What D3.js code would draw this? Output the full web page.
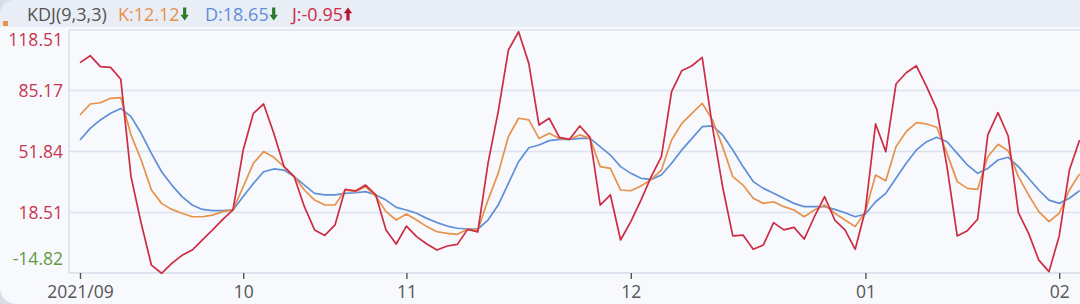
<!DOCTYPE html>
<html><head><meta charset="utf-8">
<script src="https://cdn.jsdelivr.net/npm/d3@7"></script>
<style>
html,body{margin:0;padding:0;background:#d9dee6;overflow:hidden;}
svg{display:block;}
</style></head><body>
<svg id="c" width="1080" height="304"></svg>
<script>
// ---- data ----
const kValues = [71.8,77.8,78.5,80.9,81.3,60.9,47.2,30.8,23.5,20.2,18.1,16.2,16.2,17.1,19.0,19.9,32.6,45.4,51.8,48.7,
  43.6,38.1,30.8,25.3,22.6,22.6,30.8,29.9,32.6,27.2,19.0,14.4,17.7,14.4,10.8,8.0,7.1,6.6,9.3,9.0,
  25.3,39.9,60.0,70.0,69.1,59.0,61.8,59.0,58.5,60.9,59.0,43.6,42.6,30.8,30.4,33.0,36.6,41.7,58.1,67.2,
  72.7,78.2,69.1,54.5,38.1,33.5,26.3,23.5,24.4,21.7,19.9,16.2,19.9,22.6,18.1,14.4,10.8,19.0,39.0,35.9,
  54.5,62.7,67.6,66.9,65.1,50.8,35.4,31.7,31.2,49.0,55.8,52.3,38.1,28.1,19.0,13.5,18.1,30.8,39.6];
const dValues = [58.1,64.5,69.1,72.7,75.4,70.9,61.8,50.8,40.8,33.5,27.2,22.6,20.2,19.5,19.5,19.9,27.2,34.4,40.8,42.3,
  41.7,38.1,33.5,29.0,28.1,28.1,29.0,29.3,29.9,28.1,25.3,21.3,19.9,18.1,15.3,13.0,11.1,9.9,9.5,9.5,
  14.4,22.6,34.4,46.3,53.9,55.4,57.8,58.5,58.5,59.0,59.0,54.5,49.9,43.6,39.9,37.2,36.6,39.0,45.4,52.7,
  59.0,65.4,65.8,60.9,52.7,43.6,35.4,31.7,29.0,26.3,23.5,21.7,21.7,21.7,20.2,18.4,16.2,17.7,24.4,29.0,
  37.2,45.4,52.7,57.2,59.6,57.2,50.8,44.5,39.9,42.6,47.2,48.7,43.6,37.2,30.8,25.3,23.5,26.3,30.4];
const jValues = [100.4,104.2,98.2,97.8,91.3,38.1,12.6,-10.2,-14.7,-9.3,-4.9,-2.0,3.5,9.0,14.8,19.9,52.7,72.7,77.8,61.8,
  43.6,38.1,21.7,9.0,6.0,11.7,31.2,30.3,33.5,28.1,9.0,1.3,11.1,5.3,1.3,-2.0,0.2,1.1,9.3,7.9,
  45.4,73.6,107.3,117.3,100.0,66.3,70.0,59.6,58.5,65.8,59.6,22.6,28.1,3.5,13.5,25.3,38.1,49.0,84.5,96.0,
  98.7,103.3,65.4,32.6,5.7,6.2,-1.6,0.8,13.0,9.0,10.4,4.0,16.2,27.2,14.4,9.0,-1.6,19.9,66.9,51.8,
  88.7,94.9,98.7,87.3,74.9,43.6,5.7,8.6,14.8,60.9,73.1,60.3,18.4,7.1,-7.5,-13.8,5.7,41.7,58.1];
const yTickValues = [118.51, 85.17, 51.84, 18.51, -14.82];
const xTickIndex = [0, 16, 32, 54, 77, 96];
const xTickLabels = ["2021/09", "10", "11", "12", "01", "02"];
const titleText = "KDJ(9,3,3)";
const legendLabels = ["K:12.12", "D:18.65", "J:-0.95"];
const legendArrows = ["down", "down", "up"];

// ---- layout ----
const W = 1080, H = 304;
const plotLeft = 69, plotTop = 30, plotBottom = 273;
const colK = "#e8914a", colD = "#5e8fd8", colJ = "#cc2c45";
const font = "'Open Sans', 'Noto Sans', sans-serif";

const svg = d3.select("#c");

// card
svg.append("rect").attr("x", 0).attr("y", 0).attr("width", W + 20).attr("height", H)
  .attr("rx", 16).attr("fill", "#f7f9fc");
// header band
svg.append("path")
  .attr("d", `M0,16 Q0,0 16,0 L${W},0 L${W},27 L0,27 Z`)
  .attr("fill", "#e8edf6");
svg.append("rect").attr("x", 3).attr("y", 21).attr("width", 5).attr("height", 5).attr("fill", "#e8914a");

const x = d3.scaleLinear().domain([0, kValues.length - 1]).range([80, 1079.6]);
const y = d3.scaleLinear().domain([-14.82, 118.51]).range([273.5, 29.5]);

// gridlines
svg.append("g").selectAll("line").data(yTickValues.slice(1, 4)).join("line")
  .attr("x1", plotLeft).attr("x2", W)
  .attr("y1", d => y(d)).attr("y2", d => y(d))
  .attr("stroke", "#dbe3ee").attr("stroke-width", 1.6);
// frame lines
svg.append("line").attr("x1", plotLeft).attr("x2", W).attr("y1", plotTop).attr("y2", plotTop)
  .attr("stroke", "#dbe3ee").attr("stroke-width", 1.6);
svg.append("line").attr("x1", plotLeft).attr("x2", plotLeft).attr("y1", plotTop).attr("y2", plotBottom)
  .attr("stroke", "#dbe3ee").attr("stroke-width", 1.6);

// x axis
const xAxis = d3.axisBottom(x).tickValues(xTickIndex)
  .tickFormat((d, i) => xTickLabels[i]).tickSizeInner(6).tickSizeOuter(0).tickPadding(5);
const gx = svg.append("g").attr("transform", `translate(0,${plotBottom})`).call(xAxis);
gx.select(".domain").attr("d", `M${plotLeft},0H${W}`).attr("stroke", "#d3dbe7").attr("stroke-width", 1.6);
gx.selectAll(".tick line").attr("stroke", "#555").attr("stroke-width", 1.4);
gx.selectAll(".tick text").attr("fill", "#555").attr("font-size", 17.5).attr("font-family", font)
  .attr("dy", "0.78em");

// y labels
const gy = svg.append("g");
gy.selectAll("text").data(yTickValues).join("text")
  .attr("x", 63)
  .attr("y", (d, i) => y(d) + (i === 0 ? 10.5 : (i === yTickValues.length - 1 ? -14.5 : 0)))
  .attr("dy", "0.35em")
  .attr("text-anchor", "end")
  .attr("font-family", font).attr("font-size", 17.5)
  .attr("fill", d => d < 0 ? "#5f9a45" : "#c73650")
  .text(d => d.toFixed(2));

// lines
const line = d3.line().x((d, i) => x(i)).y(d => y(d));
[[dValues, colD], [kValues, colK], [jValues, colJ]].forEach(([vals, c]) => {
  svg.append("path").datum(vals).attr("d", line)
    .attr("fill", "none").attr("stroke", c).attr("stroke-width", 1.7)
    .attr("stroke-linejoin", "round");
});

// header
const hy = 20.5;
svg.append("text").attr("x", 27).attr("y", hy).attr("font-family", font).attr("font-size", 18)
  .attr("fill", "#555").text(titleText);
const legX = [118, 205, 292];
const legC = [colK, colD, colJ];
legendLabels.forEach((t, i) => {
  const tx = svg.append("text").attr("x", legX[i]).attr("y", hy).attr("font-family", font)
    .attr("font-size", 18).attr("fill", legC[i]).text(t);
  const w = tx.node().getComputedTextLength();
  const ax = legX[i] + w + 5;
  const up = legendArrows[i] === "up";
  const col = up ? "#b8142c" : "#2a7a2e";
  const g = svg.append("g").attr("transform", `translate(${ax},${hy - 6.5})`);
  if (up) {
    g.append("path").attr("d", "M0,-6.5 L4.2,-0.8 L1.6,-0.8 L1.6,6.5 L-1.6,6.5 L-1.6,-0.8 L-4.2,-0.8 Z").attr("fill", col);
  } else {
    g.append("path").attr("d", "M0,6.5 L4.2,0.8 L1.6,0.8 L1.6,-6.5 L-1.6,-6.5 L-1.6,0.8 L-4.2,0.8 Z").attr("fill", col);
  }
});
</script>
</body></html>
